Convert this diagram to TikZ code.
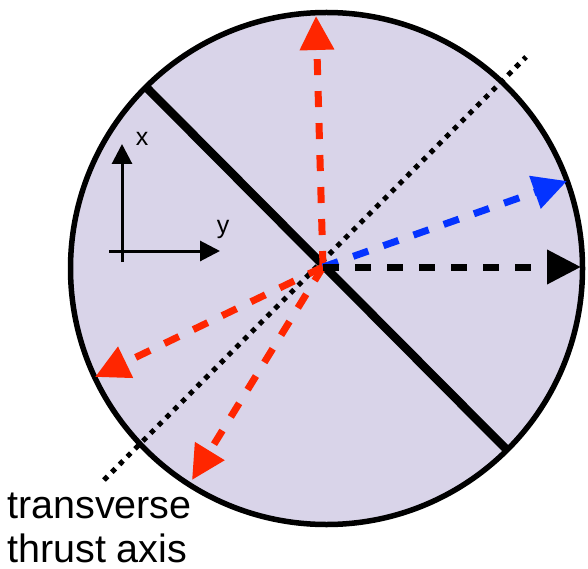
\documentclass[tikz,border=0pt]{standalone}
\usepackage{fontspec}
\setmainfont{Liberation Sans}
\usetikzlibrary{arrows.meta}
\definecolor{diskfill}{RGB}{217,212,233}
\definecolor{vred}{RGB}{255,38,0}
\definecolor{vblue}{RGB}{4,51,255}
\begin{document}
\begin{tikzpicture}[x=1pt,y=-1pt,
  vec/.style={line width=7pt, dash pattern=on 16pt off 16pt, -{Triangle[length=34pt,width=33pt]}},
  ax/.style={line width=3pt, -{Triangle[length=20pt,width=20pt]}},
  lbl/.style={font=\fontsize{39.5}{44}\selectfont, inner sep=0pt, anchor=base west},
  small/.style={font=\fontsize{25}{28}\selectfont, inner sep=0pt}]
\useasboundingbox (0,0) rectangle (588,569);
% disk
\node[circle, draw=black, fill=diskfill, line width=5.5pt, minimum size=512pt,
      inner sep=0pt, outer sep=0pt] (disk) at (326.5,268.5) {};
% key points
\coordinate (O) at (323,267);
\coordinate (L1) at (147,88);
\coordinate (L2) at (506,449);
\coordinate (D1) at (526,57);
\coordinate (D2) at (104,480);
\coordinate (tipUp) at (316,16);
\coordinate (tipBlue) at (567,181);
\coordinate (tipBlack) at (581,267);
\coordinate (tipR1) at (95,377);
\coordinate (tipR2) at (192,480);
% thick line
\draw[line width=8.5pt] (L1) -- (L2);
% dotted transverse thrust axis
\draw[line width=5pt, dash pattern=on 5pt off 6pt] (D2) -- (D1);
% vectors
\draw[vec, vred] (O) -- (tipUp);
\draw[vec, vred] (O) -- (tipR1);
\draw[vec, vred] (O) -- (tipR2);
\draw[vec, vblue] (O) -- (tipBlue);
\draw[vec, black] (O) -- (tipBlack);
% axes inset
\coordinate (axV0) at (122,262);
\coordinate (axV1) at (122,144);
\coordinate (axH0) at (109,251);
\coordinate (axH1) at (220,251);
\draw[ax] (axV0) -- (axV1);
\draw[ax] (axH0) -- (axH1);
\node[small] (xlab) at (142,139) {x};
\node[small] (ylab) at (223,229) {y};
% label
\node[lbl] (lab1) at (7,518) {transverse};
\node[lbl] (lab2) at (7,562) {thrust axis};
\end{tikzpicture}
\end{document}
